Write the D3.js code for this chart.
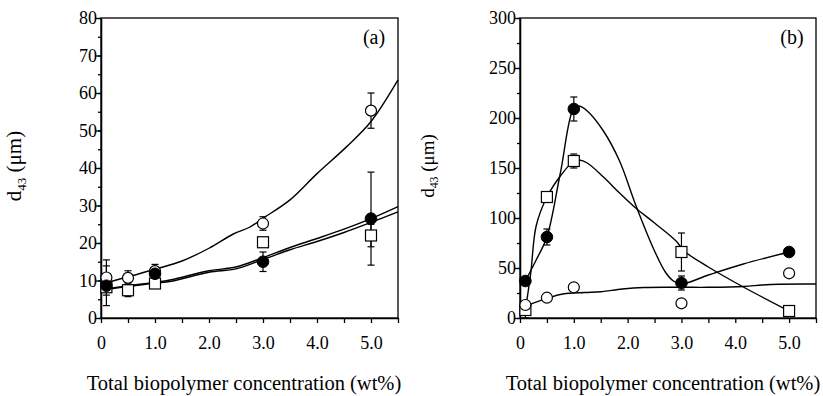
<!DOCTYPE html>
<html lang="en">
<head>
<meta charset="UTF-8" />
<title>d43 vs biopolymer concentration</title>
<style>
  body { margin: 0; background: #fff; }
</style>
</head>
<body>
<svg id="svg" width="823" height="396"></svg>
<script src="https://d3js.org/d3.v7.min.js"></script>
<script>
// ---- data: [x (wt%), d43 (um), error] ----
const aOpen   = [[0.1, 10.8, 4.7], [0.5, 10.7, 1.9], [1.0, 12.5, 1.8], [3.0, 25.2, 1.8], [5.0, 55.3, 4.7]];
const aFilled = [[0.1, 8.6, 5.3], [1.0, 11.8, 1.5], [3.0, 15.0, 2.6], [5.0, 26.5, 12.4]];
const aSquare = [[0.1, 8.2, 1.0], [0.5, 7.4, 1.7], [1.0, 9.2, 1.0], [3.0, 20.2, 1.0], [5.0, 22.0, 3.0]];

const bOpen   = [[0.1, 13, 3], [0.5, 20.3, 0], [1.0, 30.7, 0], [3.0, 14.7, 0], [5.0, 44.7, 0]];
const bFilled = [[0.1, 37, 0], [0.5, 81, 8], [1.0, 209, 12], [3.0, 35, 7], [5.0, 66, 0]];
const bSquare = [[0.1, 8, 8], [0.5, 121, 0], [1.0, 157, 7], [3.0, 66, 19], [5.0, 7, 0]];

// fitted curves: [x, y]
const aOpenFit   = [[0.1, 9.4], [1.0, 13], [1.5, 15.2], [2.0, 18.6], [2.45, 22.4], [2.75, 24.2], [3.0, 26.6], [3.5, 31.5], [4.0, 38.5], [4.55, 45.7], [5.0, 52.4], [5.5, 63.5]];
const aFilledFit = [[0.1, 7.8], [0.5, 8.6], [1.0, 9.5], [1.3, 10.2], [2.0, 12.6], [2.5, 13.6], [3.0, 16.1], [3.5, 18.8], [4.0, 21.2], [4.5, 23.7], [5.0, 26.5], [5.5, 29.7]];
const aSquareFit = [[0.1, 7.6], [0.5, 8.4], [1.0, 9.3], [1.3, 9.8], [2.0, 12.2], [2.5, 13.1], [3.0, 15.6], [3.5, 18.2], [4.0, 20.4], [4.5, 22.8], [5.0, 25.5], [5.5, 28.3]];

const bOpenFit   = [[0.1, 12], [0.5, 19.7], [0.8, 24], [1.2, 25.5], [1.5, 26.3], [1.9, 29], [2.3, 30.5], [3.0, 30.7], [3.5, 30.7], [4.15, 31.5], [4.5, 33], [4.8, 33.8], [5.5, 34]];
const bFilledFit = [[0.1, 37], [0.3, 58], [0.5, 81], [0.75, 145], [1.0, 210], [1.1, 212], [1.25, 207], [1.55, 187], [1.85, 157], [2.15, 113], [2.45, 73], [2.7, 46], [2.85, 37], [3.0, 34], [3.5, 43], [4.15, 54], [5.0, 66]];
const bSquareFit = [[0.1, 8], [0.2, 45], [0.3, 92], [0.5, 121], [0.75, 142], [1.0, 157], [1.1, 158], [1.25, 155], [1.55, 141], [1.85, 125], [2.15, 110], [2.5, 95], [2.9, 77], [3.05, 67], [3.5, 51], [4.15, 31], [5.0, 7]];

const xTicks = [0, 0.5, 1, 1.5, 2, 2.5, 3, 3.5, 4, 4.5, 5, 5.5];
const xLabel = 'Total biopolymer concentration (wt%)';

const panels = [
  { tag: '(a)', left: 101, right: 398, yMax: 80, yMajor: 10, yMinor: 5, titleX: 21, titleSize: 21, labelX: 374, xTitleX: 244,
    open: aOpen, filled: aFilled, square: aSquare, fits: [aOpenFit, aFilledFit, aSquareFit] },
  { tag: '(b)', left: 520, right: 816, yMax: 300, yMajor: 50, yMinor: 25, titleX: 434, titleSize: 19, labelX: 792, xTitleX: 663,
    open: bOpen, filled: bFilled, square: bSquare, fits: [bOpenFit, bFilledFit, bSquareFit] }
];

const serif = '"Liberation Serif", "Times New Roman", Tinos, "DejaVu Serif", serif';
const plotTop = 18, plotBottom = 318;
const svg = d3.select('#svg');

panels.forEach(p => {
  const x = d3.scaleLinear().domain([0, 5.5]).range([p.left, p.right]);
  const y = d3.scaleLinear().domain([0, p.yMax]).range([plotBottom, plotTop]);
  const g = svg.append('g');

  // x axis
  const xa = g.append('g').attr('transform', `translate(0,${plotBottom})`)
    .call(d3.axisBottom(x).tickValues(xTicks).tickSize(5).tickSizeOuter(0)
      .tickFormat(d => d === 0 ? '0' : (Number.isInteger(d) ? d.toFixed(1) : '')));
  xa.selectAll('text').attr('font-size', 18).attr('dy', '1.25em');

  // y axis: minor ticks then labelled major ticks
  g.append('g').attr('transform', `translate(${p.left},0)`)
    .call(d3.axisLeft(y).tickValues(d3.range(0, p.yMax + 0.1, p.yMinor)).tickSize(3).tickFormat('').tickSizeOuter(0));
  const ya = g.append('g').attr('transform', `translate(${p.left},0)`)
    .call(d3.axisLeft(y).tickValues(d3.range(0, p.yMax + 0.1, p.yMajor)).tickSize(5).tickSizeOuter(0));
  ya.selectAll('text').attr('font-size', 18).attr('x', -4);

  g.selectAll('.domain, .tick line').attr('stroke', '#000').attr('stroke-width', 1.3);

  // frame
  g.append('rect').attr('x', p.left).attr('y', plotTop)
    .attr('width', p.right - p.left).attr('height', plotBottom - plotTop)
    .attr('fill', 'none').attr('stroke', '#000').attr('stroke-width', 1.3);

  // error bars
  const errs = [...p.open, ...p.filled, ...p.square].filter(d => d[2] > 0);
  const eb = g.append('g').attr('stroke', '#000').attr('stroke-width', 1.2);
  eb.selectAll('line.v').data(errs).join('line')
    .attr('x1', d => x(d[0])).attr('x2', d => x(d[0]))
    .attr('y1', d => y(d[1] - d[2])).attr('y2', d => y(d[1] + d[2]));
  eb.selectAll('line.t').data(errs).join('line')
    .attr('x1', d => x(d[0]) - 3.5).attr('x2', d => x(d[0]) + 3.5)
    .attr('y1', d => y(d[1] + d[2])).attr('y2', d => y(d[1] + d[2]));
  eb.selectAll('line.b').data(errs).join('line')
    .attr('x1', d => x(d[0]) - 3.5).attr('x2', d => x(d[0]) + 3.5)
    .attr('y1', d => y(d[1] - d[2])).attr('y2', d => y(d[1] - d[2]));

  // fitted curves
  const line = d3.line().x(d => x(d[0])).y(d => y(d[1])).curve(d3.curveCatmullRom.alpha(0.5));
  g.selectAll('path.fit').data(p.fits).join('path')
    .attr('d', line).attr('fill', 'none').attr('stroke', '#000').attr('stroke-width', 1.4);

  // markers
  g.selectAll('rect.sq').data(p.square).join('rect')
    .attr('x', d => x(d[0]) - 5.5).attr('y', d => y(d[1]) - 5.5)
    .attr('width', 11).attr('height', 11)
    .attr('fill', '#fff').attr('stroke', '#000').attr('stroke-width', 1.2);
  g.selectAll('circle.op').data(p.open).join('circle')
    .attr('cx', d => x(d[0])).attr('cy', d => y(d[1])).attr('r', 5.5)
    .attr('fill', '#fff').attr('stroke', '#000').attr('stroke-width', 1.2);
  g.selectAll('circle.fi').data(p.filled).join('circle')
    .attr('cx', d => x(d[0])).attr('cy', d => y(d[1])).attr('r', 5.8)
    .attr('fill', '#000').attr('stroke', '#000');

  // labels
  g.append('text').attr('x', p.labelX).attr('y', 44).attr('text-anchor', 'middle')
    .attr('font-size', 20).text(p.tag);

  const yt = g.append('text')
    .attr('transform', `translate(${p.titleX},166) rotate(-90)`)
    .attr('text-anchor', 'middle').attr('font-size', p.titleSize);
  yt.append('tspan').text('d');
  yt.append('tspan').attr('font-size', p.titleSize * 0.62).attr('dy', '0.35em').text('43');
  yt.append('tspan').attr('dy', '-0.22em').text(' (\u03bcm)');

  g.append('text').attr('x', p.xTitleX).attr('y', 390)
    .attr('text-anchor', 'middle').attr('font-size', 20.5).text(xLabel);
});

// serif face everywhere, including d3 axis labels
svg.selectAll('text').attr('font-family', serif).attr('fill', '#000');
svg.selectAll('g').attr('font-family', serif);
</script>
</body>
</html>
